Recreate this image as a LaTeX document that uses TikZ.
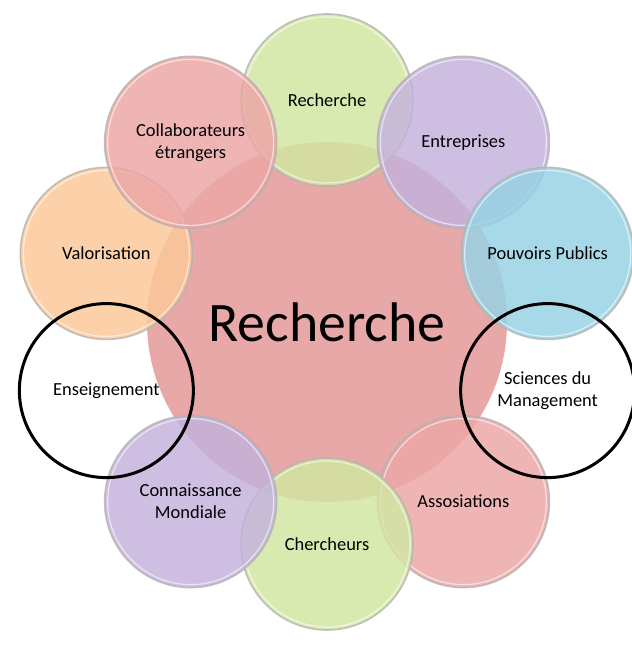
\documentclass[tikz,border=0pt]{standalone}
\usepackage{fontspec}
\setmainfont{Carlito}
\definecolor{corepink}{RGB}{232,168,168}
\definecolor{ringpink}{RGB}{236,166,166}
\definecolor{ringgreen}{RGB}{210,230,162}
\definecolor{ringpurple}{RGB}{196,178,220}
\definecolor{ringblue}{RGB}{150,210,228}
\definecolor{ringorange}{RGB}{252,200,152}
\tikzset{
  bubble/.style={circle,minimum size=172bp,inner sep=0pt,align=center,
    draw=gray!60,line width=1.6bp,draw opacity=0.8,fill opacity=0.84,text opacity=1,
    font=\fontsize{18.5}{22}\selectfont},
  ringline/.style={circle,minimum size=174bp,inner sep=0pt,align=center,
    draw=black,line width=3bp,font=\fontsize{18.5}{22}\selectfont}
}

\begin{document}
\begin{tikzpicture}[x=1bp,y=1bp]
  \useasboundingbox (0,0) rectangle (632,659);
  % centre
  \node[circle,fill=corepink,minimum size=360bp,inner sep=0pt,
        font=\fontsize{56}{60}\selectfont] (core) at (327,337) {Recherche};
  % ring of partners
  \foreach \name/\ang/\col/\txt in {
      top/90/ringgreen/Recherche,
      firms/54/ringpurple/Entreprises,
      state/18/ringblue/Pouvoirs Publics,
      assoc/-54/ringpink/Assosiations,
      staff/-90/ringgreen/Chercheurs,
      world/-126/ringpurple/Connaissance\\Mondiale,
      valor/162/ringorange/Valorisation,
      abroad/126/ringpink/Collaborateurs\\étrangers} {
      \node[bubble,fill=\col] (\name) at ({327+232*cos(\ang)},{337+222*sin(\ang)}) {\txt};
      \draw[white,line width=1.2bp,opacity=0.6] (\name.center) circle (83bp);
    }
  % outlined ones
  \node[ringline] (mgmt) at ({327+232*cos(-18)},{337+222*sin(-18)}) {Sciences du\\Management};
  \node[ringline] (teach) at ({327+232*cos(198)},{337+222*sin(198)}) {Enseignement};
\end{tikzpicture}
\end{document}
